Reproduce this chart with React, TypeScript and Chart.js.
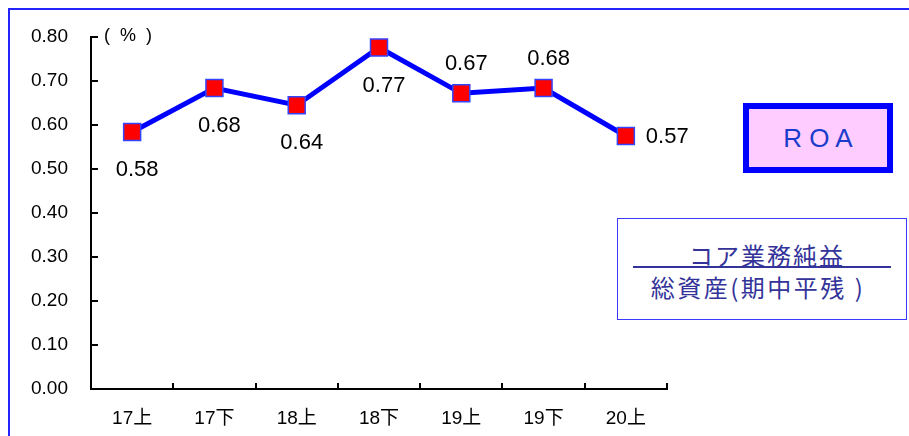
import React, { useEffect, useRef } from 'react';
import { Chart, registerables } from 'chart.js';

Chart.register(...registerables);

const categories = ['17上', '17下', '18上', '18下', '19上', '19下', '20上'];
const roaValues = [0.584, 0.684, 0.645, 0.776, 0.672, 0.684, 0.575];
const roaLabels = ['0.58', '0.68', '0.64', '0.77', '0.67', '0.68', '0.57'];
const labelPlacement = ['below', 'below', 'below', 'below', 'above', 'above', 'right'];
const yMin = 0;
const yMax = 0.8;
const yStep = 0.1;
const unitLabel = '(  %  )';
const titleText = 'R O A';
const formulaTop = 'コア業務純益';
const formulaBottom = '総資産(期中平残 )';

const LATIN = '"Liberation Sans", Arial, sans-serif';
const CJK = '"Liberation Sans", "Noto Sans CJK JP", sans-serif';

const decorPlugin = {
  id: 'decor',
  afterDraw(chart: any) {
    const { ctx, chartArea: a, scales } = chart;
    const y = scales.y;
    ctx.save();
    ctx.strokeStyle = '#000';
    ctx.lineWidth = 2;
    y.ticks.forEach((_t: any, i: number) => {
      const py = Math.round(y.getPixelForTick(i));
      ctx.beginPath();
      ctx.moveTo(a.left, py);
      ctx.lineTo(a.left + 7, py);
      ctx.stroke();
    });
    const n = categories.length;
    for (let i = 0; i <= n; i++) {
      const px = Math.round(a.left + ((a.right - a.left) * i) / n);
      ctx.beginPath();
      ctx.moveTo(px, a.bottom);
      ctx.lineTo(px, a.bottom - 6);
      ctx.stroke();
    }
    ctx.fillStyle = '#000';
    ctx.font = '18px ' + LATIN;
    ctx.textAlign = 'left';
    ctx.textBaseline = 'middle';
    ctx.fillText(unitLabel, a.left + 13, a.top - 1);
    ctx.restore();
  },
  afterDatasetsDraw(chart: any) {
    const { ctx } = chart;
    const meta = chart.getDatasetMeta(0);
    ctx.save();
    ctx.fillStyle = '#000';
    ctx.font = '22px ' + LATIN;
    ctx.textBaseline = 'middle';
    meta.data.forEach((pt: any, i: number) => {
      const p = labelPlacement[i];
      if (p === 'right') {
        ctx.textAlign = 'left';
        ctx.fillText(roaLabels[i], pt.x + 20, pt.y + 1);
      } else {
        ctx.textAlign = 'center';
        const dy = p === 'below' ? 38 : -29;
        ctx.fillText(roaLabels[i], pt.x + 5, pt.y + dy);
      }
    });
    ctx.restore();
  },
};

export default function App() {
  const ref = useRef<HTMLCanvasElement | null>(null);

  useEffect(() => {
    if (!ref.current) return;
    const chart = new Chart(ref.current, {
      type: 'line',
      data: {
        labels: categories,
        datasets: [
          {
            data: roaValues,
            borderColor: '#0000FF',
            borderWidth: 5,
            pointStyle: 'rect',
            pointRadius: 12,
            pointHoverRadius: 12,
            pointBackgroundColor: '#FF0000',
            pointBorderColor: '#3344FF',
            pointBorderWidth: 1.5,
            tension: 0,
            fill: false,
          },
        ],
      },
      options: {
        responsive: false,
        animation: false,
        events: [],
        layout: { padding: { top: 37, right: 242, left: 0, bottom: 0 } },
        plugins: {
          legend: { display: false },
          tooltip: { enabled: false },
          title: { display: false },
        },
        scales: {
          x: {
            type: 'category',
            offset: true,
            grid: { display: false, drawTicks: false },
            border: { display: true, color: '#000', width: 2 },
            ticks: {
              color: '#000',
              padding: 18,
              maxRotation: 0,
              font: { family: CJK, size: 19 },
            },
            afterFit(scale: any) {
              scale.height = 47;
            },
          },
          y: {
            min: yMin,
            max: yMax,
            grid: { display: false, drawTicks: false },
            border: { display: true, color: '#000', width: 2 },
            ticks: {
              stepSize: yStep,
              color: '#000',
              padding: 23,
              font: { family: LATIN, size: 19 },
              callback: (v: any) => Number(v).toFixed(2),
            },
            afterFit(scale: any) {
              scale.width = 91;
            },
          },
        },
      },
      plugins: [decorPlugin],
    });
    return () => chart.destroy();
  }, []);

  return (
    <div
      style={{
        position: 'fixed',
        left: 0,
        top: 0,
        width: 909,
        height: 436,
        overflow: 'hidden',
        background: '#fff',
      }}
    >
      <div
        style={{
          position: 'absolute',
          left: 8,
          top: 8,
          width: 1000,
          height: 1000,
          border: '2px solid #2424ff',
        }}
      />
      <canvas ref={ref} width={909} height={436} style={{ position: 'absolute', left: 0, top: 0 }} />
      <div
        style={{
          position: 'absolute',
          left: 743,
          top: 103,
          width: 150,
          height: 70,
          boxSizing: 'border-box',
          border: '6px solid #0000FF',
          background: '#FFCCFF',
          color: '#1a3ccc',
          font: '26px ' + LATIN,
          display: 'flex',
          alignItems: 'center',
          justifyContent: 'center',
          whiteSpace: 'pre',
        }}
      >
        {titleText}
      </div>
      <div
        style={{
          position: 'absolute',
          left: 617,
          top: 218,
          width: 290,
          height: 102,
          boxSizing: 'border-box',
          border: '1px solid #3a3aff',
          background: '#fff',
        }}
      >
        <div
          style={{
            position: 'absolute',
            left: 0,
            right: 0,
            top: 20,
            textAlign: 'center',
            color: '#333399',
            font: '24px "Noto Sans CJK JP", sans-serif',
            letterSpacing: 2,
            lineHeight: '32px',
            paddingLeft: 10,
            whiteSpace: 'pre',
          }}
        >
          {formulaTop}
        </div>
        <div
          style={{
            position: 'absolute',
            left: 15,
            width: 258,
            top: 47,
            height: 0,
            borderTop: '2px solid #333399',
          }}
        />
        <div
          style={{
            position: 'absolute',
            left: 0,
            right: 0,
            top: 52,
            textAlign: 'center',
            color: '#333399',
            font: '24px "Noto Sans CJK JP", sans-serif',
            letterSpacing: 2.5,
            lineHeight: '32px',
            paddingRight: 8,
            whiteSpace: 'pre',
          }}
        >
          {formulaBottom}
        </div>
      </div>
    </div>
  );
}
